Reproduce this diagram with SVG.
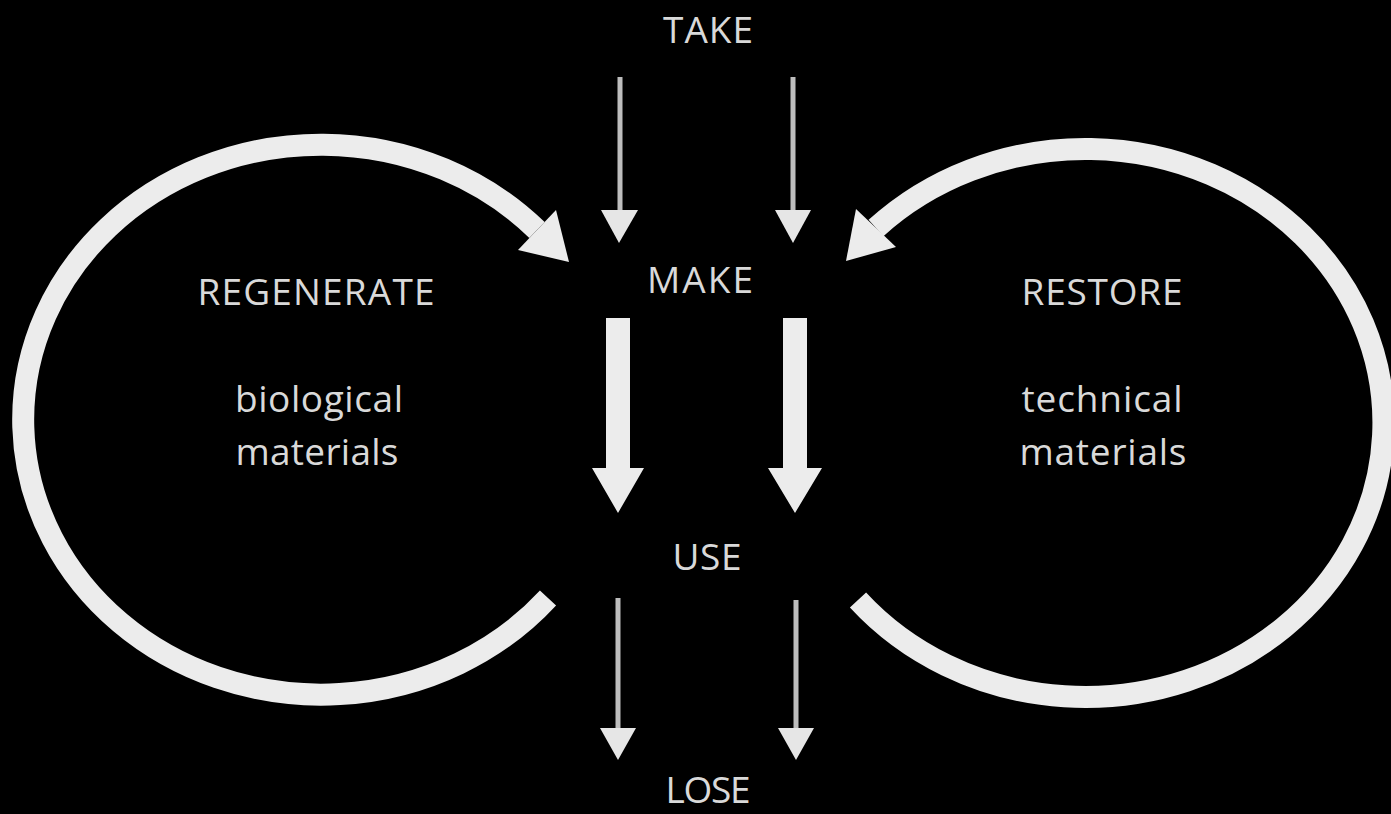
<svg xmlns="http://www.w3.org/2000/svg" width="1391" height="814" viewBox="0 0 1391 814">
<style>
.lbl{font-family:"Open Sans","Liberation Sans",sans-serif;font-size:37px;font-weight:500;fill:#d9d9d9;text-anchor:middle}
.loop{fill:none;stroke:#ececec;stroke-width:22;stroke-linecap:butt}
.head{fill:#ececec}
.thin{stroke:#bdbdbd;stroke-width:5;fill:none}
.thinhead{fill:#e6e6e6}
.thick{fill:#ececec}
</style>
<rect width="1391" height="814" fill="#000"/>
<g id="connectors">
  <g id="loop-left">
    <path class="loop" d="M 548 598 A 298 275 0 1 1 537 230"/>
    <polygon class="head" points="518,250 556,210 569,262"/>
  </g>
  <g id="loop-right">
    <path class="loop" d="M 858 600 A 298 274 0 1 0 876 228"/>
    <polygon class="head" points="896,247 856,209 846,261"/>
  </g>
  <g id="take-arrows">
    <line class="thin" x1="620" y1="77" x2="620" y2="212"/>
    <polygon class="thinhead" points="601,210 638,210 619,243"/>
    <line class="thin" x1="793" y1="77" x2="793" y2="212"/>
    <polygon class="thinhead" points="775,210 811,210 793,243"/>
  </g>
  <g id="make-arrows">
    <polygon class="thick" points="606,318 630,318 630,468 644,468 618,513 592,468 606,468"/>
    <polygon class="thick" points="783,318 807,318 807,468 822,468 795,513 768,468 783,468"/>
  </g>
  <g id="use-arrows">
    <line class="thin" x1="618" y1="598" x2="618" y2="730"/>
    <polygon class="thinhead" points="600,728 636,728 618,760"/>
    <line class="thin" x1="796" y1="600" x2="796" y2="730"/>
    <polygon class="thinhead" points="778,728 814,728 796,760"/>
  </g>
</g>
<g id="take"><text class="lbl" x="708" y="43" textLength="90">TAKE</text></g>
<g id="make"><text class="lbl" x="700" y="293" textLength="106">MAKE</text></g>
<g id="use"><text class="lbl" x="707" y="570" textLength="69">USE</text></g>
<g id="lose"><text class="lbl" x="708" y="803" textLength="85">LOSE</text></g>
<g id="regenerate">
  <text class="lbl" x="316" y="305" textLength="237">REGENERATE</text>
  <text class="lbl" x="319" y="412" textLength="168">biological</text>
  <text class="lbl" x="317" y="465" textLength="163">materials</text>
</g>
<g id="restore">
  <text class="lbl" x="1102" y="305" textLength="161">RESTORE</text>
  <text class="lbl" x="1102" y="412" textLength="161">technical</text>
  <text class="lbl" x="1103" y="465" textLength="167">materials</text>
</g>
</svg>
